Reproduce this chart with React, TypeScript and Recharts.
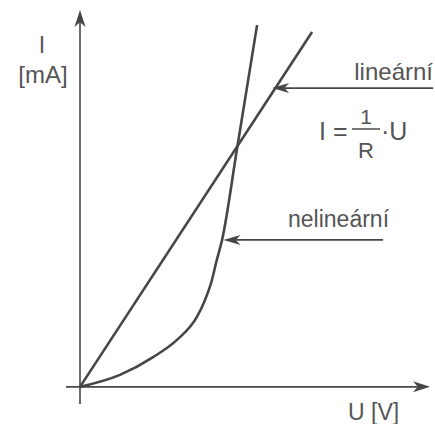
import { ComposedChart, Line, XAxis, YAxis, ReferenceLine } from "recharts";

// I–U characteristics, values (U in V, I in mA, arbitrary scale)
const linearU = [0, 6.63];
const linearI = [0, 10.36];

const curveU = [0, 1.14, 2.09, 2.77, 3.34, 3.57, 3.77, 3.9, 4.06, 4.49, 5.06];
const curveI = [0, 0.35, 0.87, 1.37, 2.04, 2.53, 3.12, 3.67, 4.29, 6.97, 10.56];

const uDomain = [-0.4, 10];
const iDomain = [-0.5, 11];

const INK = "#464646";
const TEXT = "#555555";
const FONT = "'Liberation Sans', Arial, sans-serif";

const linearData = linearU.map((u, k) => ({ u, i: linearI[k] }));
const curveData = curveU.map((u, k) => ({ u, i: curveI[k] }));

// line with a barbed arrowhead at the second point
function arrowShape(width: number, len: number, half: number) {
  return (props: any) => {
    const { x1, y1, x2, y2 } = props;
    const dx = x2 - x1;
    const dy = y2 - y1;
    const d = Math.sqrt(dx * dx + dy * dy) || 1;
    const ux = dx / d;
    const uy = dy / d;
    const bx = x2 - ux * len;
    const by = y2 - uy * len;
    const nx = x2 - ux * len * 0.72;
    const ny = y2 - uy * len * 0.72;
    const pts = [
      [x2, y2],
      [bx - uy * half, by + ux * half],
      [nx, ny],
      [bx + uy * half, by - ux * half],
    ]
      .map((p) => p.join(","))
      .join(" ");
    return (
      <g>
        <line x1={x1} y1={y1} x2={nx} y2={ny} stroke={INK} strokeWidth={width} />
        <polygon points={pts} fill={INK} />
      </g>
    );
  };
}

export default function App() {
  return (
    <div style={{ position: "absolute", left: 0, top: 0, background: "#fff" }}>
      <ComposedChart width={435} height={424} margin={{ top: 10, right: 5, bottom: 20, left: 66 }}>
        <XAxis type="number" dataKey="u" domain={uDomain} allowDataOverflow hide />
        <YAxis type="number" dataKey="i" domain={iDomain} allowDataOverflow hide />

        {/* axes */}
        <ReferenceLine
          segment={[{ x: -0.4, y: 0 }, { x: 10, y: 0 }]}
          ifOverflow="visible"
          shape={arrowShape(1.6, 17, 5.5)}
        />
        <ReferenceLine
          segment={[{ x: 0, y: -0.5 }, { x: 0, y: 11 }]}
          ifOverflow="visible"
          shape={arrowShape(1.6, 17, 5.5)}
        />

        <Line
          data={linearData}
          dataKey="i"
          type="linear"
          stroke={INK}
          strokeWidth={2.6}
          dot={false}
          isAnimationActive={false}
        />
        <Line
          data={curveData}
          dataKey="i"
          type="monotone"
          stroke={INK}
          strokeWidth={2.6}
          dot={false}
          isAnimationActive={false}
        />

        {/* pointer arrows */}
        <ReferenceLine
          segment={[{ x: 10.09, y: 8.72 }, { x: 5.49, y: 8.72 }]}
          ifOverflow="visible"
          shape={arrowShape(1.6, 17, 5)}
        />
        <ReferenceLine
          segment={[{ x: 8.66, y: 4.29 }, { x: 4.1, y: 4.29 }]}
          ifOverflow="visible"
          shape={arrowShape(1.6, 17, 5)}
        />

        <g fill={TEXT} fontFamily={FONT}>
          <text x={42} y={53} fontSize={23} textAnchor="middle">I</text>
          <text x={43} y={83} fontSize={24} textAnchor="middle">[mA]</text>
          <text x={433} y={80} fontSize={24} textAnchor="end">lineární</text>
          <text x={319} y={140} fontSize={25}>I =</text>
          <text x={366} y={124} fontSize={21} textAnchor="middle">1</text>
          <line x1={352} y1={129} x2={380} y2={129} stroke={TEXT} strokeWidth={1.6} />
          <text x={366} y={158} fontSize={22} textAnchor="middle">R</text>
          <text x={381} y={140} fontSize={25}>·U</text>
          <text x={288} y={227} fontSize={23}>nelineární</text>
          <text x={348} y={420} fontSize={23}>U [V]</text>
        </g>
      </ComposedChart>
    </div>
  );
}
